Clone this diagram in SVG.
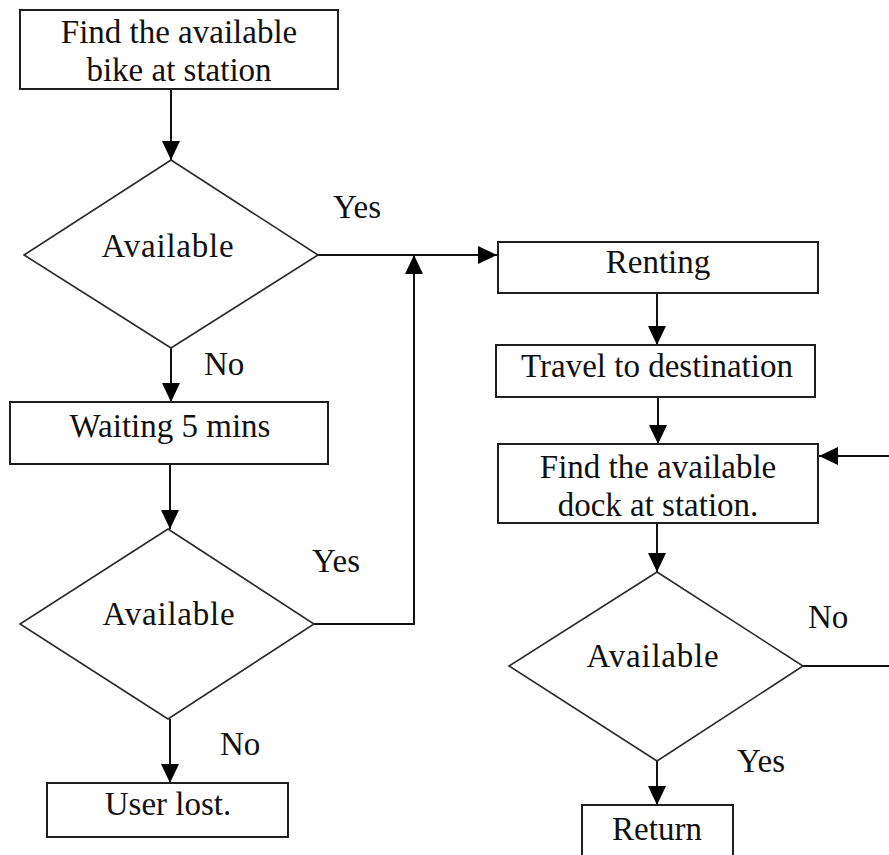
<svg xmlns="http://www.w3.org/2000/svg" width="889" height="855" viewBox="0 0 889 855">
  <style>
    .box { fill: #ffffff; stroke: #1e1e1e; stroke-width: 2; }
    .dia { fill: #ffffff; stroke: #2a2a2a; stroke-width: 1.6; }
    .wire { fill: none; stroke: #111111; stroke-width: 2; }
  </style>
  <defs>
    <marker id="arrow" viewBox="0 0 19 18" refX="19" refY="9" markerWidth="19" markerHeight="18" markerUnits="userSpaceOnUse" orient="auto">
      <path d="M0,0 L19,9 L0,18 z" fill="#000000"/>
    </marker>
  </defs>
  <rect width="889" height="855" fill="#ffffff"/>

  <!-- connectors -->
  <g id="connectors" class="wire" marker-end="url(#arrow)">
    <path d="M171,89 V160"/>
    <path d="M318,255 H497"/>
    <path d="M314,624 H414 V255"/>
    <path d="M171,348 V402"/>
    <path d="M170,464 V529"/>
    <path d="M170,719 V783"/>
    <path d="M657,293 V345"/>
    <path d="M658,397 V444"/>
    <path d="M657,523 V572"/>
    <path d="M803,666 H900 V456 H819"/>
    <path d="M657,761 V805"/>
  </g>

  <!-- bike pickup side -->
  <g id="find-bike">
    <rect class="box" x="20" y="10" width="318" height="79"/>
    <text x="179" y="43" font-family="Times New Roman" font-size="33" text-anchor="middle" fill="#111">Find the available</text>
    <text x="179" y="81" font-family="Times New Roman" font-size="33" text-anchor="middle" fill="#111">bike at station</text>
  </g>
  <g id="bike-available">
    <polygon class="dia" points="171,160 318,255 171,348 24,255"/>
    <text x="168" y="257" font-family="Times New Roman" font-size="33" letter-spacing="0.8" text-anchor="middle" fill="#111">Available</text>
  </g>
  <g id="wait">
    <rect class="box" x="10" y="402" width="318" height="62"/>
    <text x="170" y="437" font-family="Times New Roman" font-size="33" text-anchor="middle" fill="#111">Waiting 5 mins</text>
  </g>
  <g id="bike-available-again">
    <polygon class="dia" points="168,529 314,624 168,719 20,624"/>
    <text x="169" y="625" font-family="Times New Roman" font-size="33" letter-spacing="0.8" text-anchor="middle" fill="#111">Available</text>
  </g>
  <g id="user-lost">
    <rect class="box" x="47" y="783" width="241" height="54"/>
    <text x="168" y="815" font-family="Times New Roman" font-size="33" text-anchor="middle" fill="#111">User lost.</text>
  </g>

  <!-- ride and return side -->
  <g id="renting">
    <rect class="box" x="498" y="242" width="320" height="51"/>
    <text x="658" y="273" font-family="Times New Roman" font-size="33" text-anchor="middle" fill="#111">Renting</text>
  </g>
  <g id="travel">
    <rect class="box" x="496" y="345" width="319" height="52"/>
    <text x="657" y="377" font-family="Times New Roman" font-size="33" text-anchor="middle" fill="#111">Travel to destination</text>
  </g>
  <g id="find-dock">
    <rect class="box" x="498" y="444" width="320" height="79"/>
    <text x="658" y="478" font-family="Times New Roman" font-size="33" text-anchor="middle" fill="#111">Find the available</text>
    <text x="658" y="516" font-family="Times New Roman" font-size="33" text-anchor="middle" fill="#111">dock at station.</text>
  </g>
  <g id="dock-available">
    <polygon class="dia" points="657,572 803,666 657,761 509,666"/>
    <text x="653" y="667" font-family="Times New Roman" font-size="33" letter-spacing="0.8" text-anchor="middle" fill="#111">Available</text>
  </g>
  <g id="return">
    <rect class="box" x="582" y="805" width="151" height="70"/>
    <text x="657" y="840" font-family="Times New Roman" font-size="33" text-anchor="middle" fill="#111">Return</text>
  </g>

  <!-- branch labels -->
  <g id="branch-labels">
    <text x="333" y="218" font-family="Times New Roman" font-size="33" fill="#111">Yes</text>
    <text x="204" y="375" font-family="Times New Roman" font-size="33" fill="#111">No</text>
    <text x="312" y="572" font-family="Times New Roman" font-size="33" fill="#111">Yes</text>
    <text x="220" y="755" font-family="Times New Roman" font-size="33" fill="#111">No</text>
    <text x="808" y="628" font-family="Times New Roman" font-size="33" fill="#111">No</text>
    <text x="737" y="772" font-family="Times New Roman" font-size="33" fill="#111">Yes</text>
  </g>
</svg>
